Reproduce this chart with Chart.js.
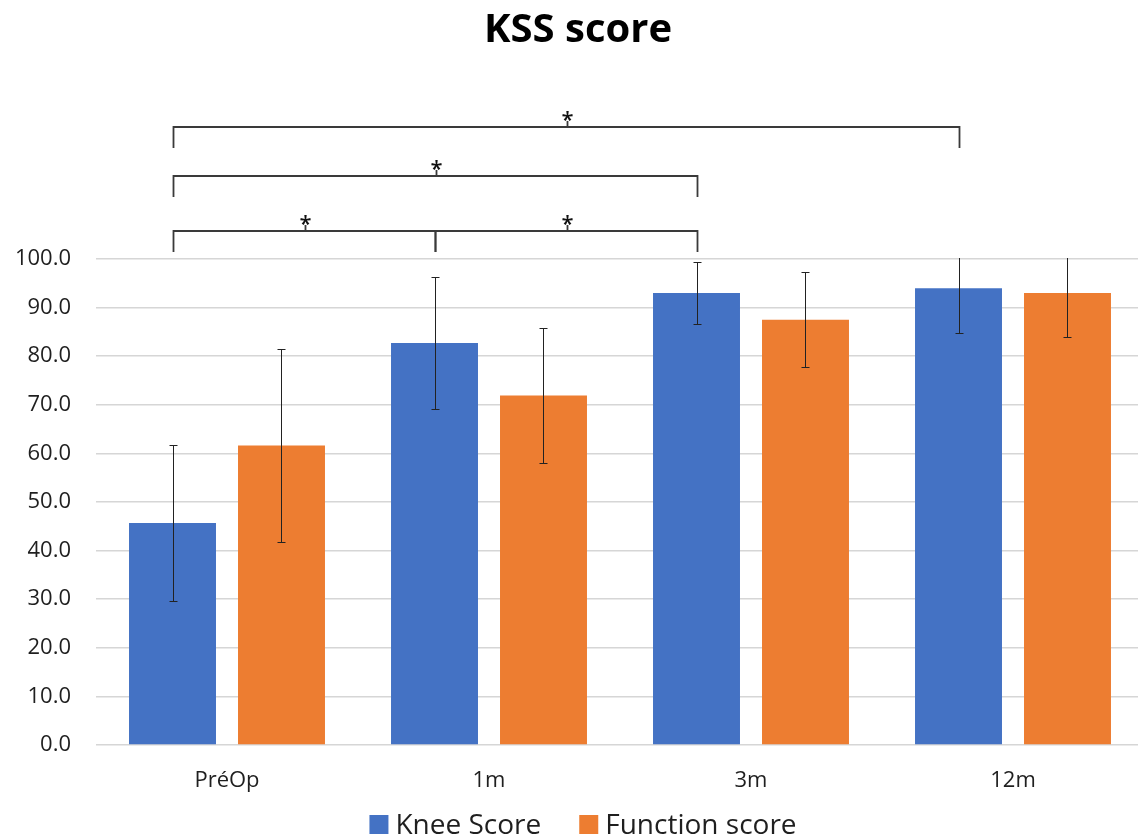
<!DOCTYPE html>
<html>
<head>
<meta charset="utf-8">
<script src="https://cdn.jsdelivr.net/npm/chart.js@4.4.1/dist/chart.umd.min.js"></script>
<style>
  html, body { margin: 0; padding: 0; background: #fff; overflow: hidden; }
  #wrap { width: 1146px; height: 838px; position: relative; }
</style>
</head>
<body>
<div id="wrap"><canvas id="kss"></canvas></div>
<script>
// KSS scores (mean and SD) at each follow-up visit
const categories = ['PréOp', '1m', '3m', '12m'];
const kneeScore = [45.7, 82.7, 93.0, 94.0];
const kneeSD = [16.1, 13.5, 6.4, 9.2];
const functionScore = [61.6, 71.9, 87.5, 93.0];
const functionSD = [19.8, 13.9, 9.8, 9.1];
const seriesNames = ['Knee Score', 'Function score'];

// Significant pairwise differences of the knee score (category indices)
const comparisonFrom = [0, 1, 0, 0];
const comparisonTo = [1, 2, 2, 3];
const comparisonLabel = ['*', '*', '*', '*'];

const FONT = '"Open Sans", "DejaVu Sans", sans-serif';
const TEXT = '#1f1f1f';

// Whiskers for mean ± SD, clipped to the plot area
const errorBars = {
  id: 'errorBars',
  afterDatasetsDraw(chart, args, opts) {
    const { ctx, chartArea } = chart;
    const y = chart.scales.y;
    ctx.save();
    ctx.beginPath();
    ctx.rect(chartArea.left, chartArea.top - 1, chartArea.right - chartArea.left, chartArea.bottom - chartArea.top + 2);
    ctx.clip();
    ctx.strokeStyle = opts.color;
    ctx.lineWidth = opts.width;
    chart.data.datasets.forEach((ds, di) => {
      const meta = chart.getDatasetMeta(di);
      meta.data.forEach((bar, i) => {
        const m = ds.data[i], sd = ds.sd[i];
        const yTop = Math.round(y.getPixelForValue(m + sd)) + 0.5;
        const yBot = Math.round(y.getPixelForValue(m - sd)) + 0.5;
        const x = Math.round(bar.x) + 0.5;
        ctx.beginPath();
        ctx.moveTo(x, yTop); ctx.lineTo(x, yBot);
        ctx.moveTo(x - opts.cap, yTop); ctx.lineTo(x + opts.cap, yTop);
        ctx.moveTo(x - opts.cap, yBot); ctx.lineTo(x + opts.cap, yBot);
        ctx.stroke();
      });
    });
    ctx.restore();
  }
};

// Significance brackets drawn above the bars
const brackets = {
  id: 'brackets',
  afterDraw(chart, args, opts) {
    const { ctx } = chart;
    const meta = chart.getDatasetMeta(0);
    ctx.save();
    ctx.strokeStyle = opts.color;
    ctx.fillStyle = opts.textColor;
    ctx.lineWidth = opts.width;
    ctx.font = opts.font;
    ctx.textAlign = 'center';
    ctx.textBaseline = 'alphabetic';
    comparisonFrom.forEach((from, k) => {
      const to = comparisonTo[k];
      const x1 = Math.round(meta.data[from].x) + 0.5;
      const x2 = Math.round(meta.data[to].x) + 0.5;
      const yLine = opts.rows[k];
      ctx.beginPath();
      ctx.moveTo(x1, yLine + opts.leg);
      ctx.lineTo(x1, yLine);
      ctx.lineTo(x2, yLine);
      ctx.lineTo(x2, yLine + opts.leg);
      const xm = Math.round((x1 + x2) / 2) + 0.5;
      ctx.moveTo(xm, yLine);
      ctx.lineTo(xm, yLine - opts.tick);
      ctx.stroke();
      // sit the bottom of the glyph on top of the small tick
      const m = ctx.measureText(comparisonLabel[k]);
      const baseline = yLine - opts.tick - m.actualBoundingBoxDescent;
      ctx.fillText(comparisonLabel[k], xm, baseline);
    });
    ctx.restore();
  }
};

// Series key under the category labels
const seriesKey = {
  id: 'seriesKey',
  afterDraw(chart, args, opts) {
    const { ctx } = chart;
    ctx.save();
    ctx.font = opts.font;
    ctx.textBaseline = 'alphabetic';
    ctx.textAlign = 'left';
    const items = chart.data.datasets.map(ds => ({
      text: ds.label, color: ds.backgroundColor, w: ctx.measureText(ds.label).width
    }));
    const total = items.reduce((s, it, i) => s + opts.box + opts.gap + it.w + (i ? opts.spacing : 0), 0);
    let x = opts.centerX - total / 2;
    items.forEach(it => {
      ctx.fillStyle = it.color;
      ctx.fillRect(x, opts.baseline - opts.box, opts.box, opts.box);
      ctx.fillStyle = opts.color;
      ctx.fillText(it.text, x + opts.box + opts.gap, opts.baseline);
      x += opts.box + opts.gap + it.w + opts.spacing;
    });
    ctx.restore();
  }
};

new Chart(document.getElementById('kss'), {
  type: 'bar',
  data: {
    labels: categories,
    datasets: [
      { label: seriesNames[0], data: kneeScore, sd: kneeSD, backgroundColor: '#4472C4' },
      { label: seriesNames[1], data: functionScore, sd: functionSD, backgroundColor: '#ED7D31' }
    ]
  },
  options: {
    responsive: true,
    maintainAspectRatio: false,
    animation: false,
    categoryPercentage: 0.832,
    barPercentage: 0.798,
    layout: { padding: { left: 12, right: 2, top: 0, bottom: 46 } },
    scales: {
      x: {
        grid: { display: false, drawTicks: false },
        border: { display: false },
        ticks: { color: TEXT, font: { family: FONT, size: 22 }, padding: 23 },
        afterFit(scale) { scale.height = 47; }
      },
      y: {
        min: 0,
        max: 100,
        ticks: {
          stepSize: 10,
          color: TEXT,
          font: { family: FONT, size: 22 },
          padding: 25,
          callback: v => v.toFixed(1)
        },
        grid: { color: '#d6d6d6', lineWidth: 1.5, drawTicks: false },
        border: { display: false },
        afterFit(scale) { scale.width = 84; }
      }
    },
    plugins: {
      title: {
        display: true,
        text: 'KSS score',
        color: '#000',
        font: { family: FONT, size: 40, weight: 'bold' },
        padding: { top: 7, bottom: 204 }
      },
      legend: { display: false },
      tooltip: { enabled: false },
      errorBars: { color: '#222', width: 1, cap: 4 },
      brackets: {
        color: '#3a3a3a',
        textColor: '#111',
        width: 1.8,
        font: '600 22px ' + FONT,
        rows: [231, 231, 176, 127],
        leg: 21,
        tick: 6
      },
      seriesKey: {
        font: '28px ' + FONT,
        color: TEXT,
        box: 19,
        gap: 7,
        spacing: 38,
        centerX: 583,
        baseline: 834
      }
    }
  },
  plugins: [errorBars, brackets, seriesKey]
});
</script>
</body>
</html>
